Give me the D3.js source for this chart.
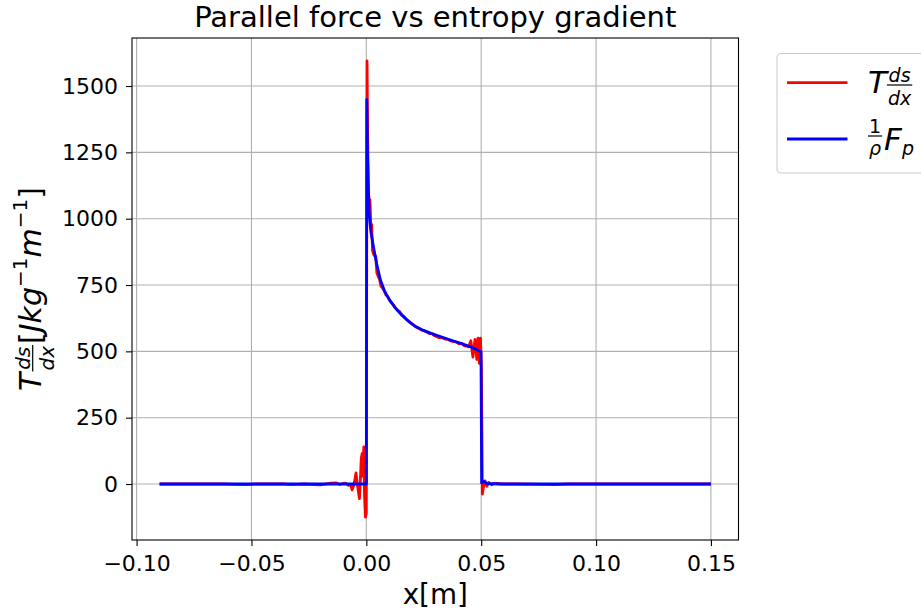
<!DOCTYPE html>
<html><head><meta charset="utf-8">
<script src="https://cdn.jsdelivr.net/npm/d3@7"></script>
<style>body{margin:0;background:#fff} svg{display:block} text{font-family:"DejaVu Sans",sans-serif;fill:#000}</style>
</head><body>
<svg id="c" width="921" height="614"></svg>
<script>
const xTicks = [-0.10, -0.05, 0.00, 0.05, 0.10, 0.15];
const yTicks = [0, 250, 500, 750, 1000, 1250, 1500];

const blueX = [-0.09, -0.05, -0.0004, 0.0, 0.0002, 0.0005, 0.0009, 0.0013, 0.002, 0.0032, 0.0045, 0.0061, 0.0079, 0.010, 0.0123, 0.015, 0.0181, 0.021, 0.0246, 0.0285, 0.0325, 0.037, 0.0412, 0.045, 0.0484, 0.0499, 0.0502, 0.0512, 0.0525, 0.06, 0.15];
const blueY = [0, 0, 0, 0, 1450, 1250, 1110, 1010, 950, 890, 830, 770, 728, 695, 667, 640, 615, 596, 580, 567, 555, 542, 530, 518, 505, 498, 4, 10, 2, 0, 0];

const redX = [-0.09, -0.062, -0.058, -0.052, -0.048, -0.036, -0.033, -0.03, -0.027, -0.023, -0.02, -0.018, -0.0155, -0.013, -0.0115, -0.0098, -0.0088, -0.0078, -0.0068, -0.0062, -0.0056, -0.0051, -0.0045, -0.004, -0.0035, -0.003, -0.0026, -0.0022, -0.0018, -0.0015, -0.0011, -0.0008, -0.0004, 0.0, 0.0003, 0.0006, 0.0009, 0.0012, 0.0016, 0.0019, 0.0023, 0.0027, 0.0031, 0.0036, 0.0041, 0.0046, 0.0052, 0.0058, 0.0064, 0.0071, 0.0078, 0.0086, 0.0094, 0.0102, 0.011, 0.0118, 0.0127, 0.0136, 0.0145, 0.0155, 0.0165, 0.0175, 0.0185, 0.0195, 0.0205, 0.0215, 0.0225, 0.0235, 0.0245, 0.0255, 0.0265, 0.0275, 0.0285, 0.0295, 0.0305, 0.0315, 0.0325, 0.0335, 0.0345, 0.0355, 0.0365, 0.0375, 0.0385, 0.0395, 0.0405, 0.0415, 0.0425, 0.0435, 0.0445, 0.0455, 0.0464, 0.0473, 0.0481, 0.0486, 0.0492, 0.0497, 0.0501, 0.0505, 0.051, 0.0516, 0.0525, 0.0533, 0.0546, 0.0559, 0.0585, 0.065, 0.075, 0.082, 0.088, 0.15];
const redY = [0, 0, -1, -2, 0, 0, -2, -1, 0, -2, -3, 0, 3, 4, -2, 3, 2, -5, -2, -22, -8, 10, 42, 5, -25, -55, 15, 98, 115, 30, 140, -40, -125, -110, 1595, 1300, 1100, 1075, 1070, 985, 978, 880, 868, 860, 858, 795, 782, 770, 745, 738, 728, 712, 705, 692, 683, 675, 664, 655, 650, 638, 630, 620, 614, 606, 600, 593, 588, 583, 578, 577, 572, 567, 568, 560, 556, 552, 553, 549, 546, 545, 540, 538, 537, 533, 528, 530, 522, 520, 517, 540, 478, 545, 470, 550, 455, 550, 440, -38, -10, 12, -8, 6, -3, 2, 0, 0, -1, -2, 0, 0];

const title = "Parallel force vs entropy gradient";
const xLabel = "x[m]";

const svg = d3.select("#c");
const L = 132, R = 738.5, T = 38, B = 540;
const x = d3.scaleLinear().domain([-0.102, 0.162]).range([L, R]);
const y = d3.scaleLinear().domain([-211, 1681]).range([B, T]);

// grid
const grid = svg.append("g");
xTicks.forEach(v => grid.append("line").attr("x1", x(v)).attr("x2", x(v)).attr("y1", T).attr("y2", B).attr("stroke", "#b0b0b0").attr("stroke-width", 1.1));
yTicks.forEach(v => grid.append("line").attr("x1", L).attr("x2", R).attr("y1", y(v)).attr("y2", y(v)).attr("stroke", "#b0b0b0").attr("stroke-width", 1.1));

svg.append("clipPath").attr("id", "clip").append("rect").attr("x", L).attr("y", T).attr("width", R - L).attr("height", B - T);

const line = d3.line().x(d => x(d[0])).y(d => y(d[1]));
const redData = redX.map((v, i) => [v, redY[i]]);
const blueData = blueX.map((v, i) => [v, blueY[i]]);
const plot = svg.append("g").attr("clip-path", "url(#clip)");
plot.append("path").attr("d", line(redData)).attr("fill", "none").attr("stroke", "#ff0000").attr("stroke-width", 2.8).attr("stroke-linejoin", "round");
plot.append("path").attr("d", line(blueData)).attr("fill", "none").attr("stroke", "#0000ff").attr("stroke-width", 2.8).attr("stroke-linejoin", "round");

// axes
const fmtX = d => d3.format(".2f")(d).replace("-", "\u2212");
const xAxis = d3.axisBottom(x).tickValues(xTicks).tickFormat(fmtX).tickSize(6).tickPadding(7.5);
const yAxis = d3.axisLeft(y).tickValues(yTicks).tickFormat(d3.format("d")).tickSize(6).tickPadding(8);
const gx = svg.append("g").attr("transform", `translate(0,${B})`).call(xAxis);
const gy = svg.append("g").attr("transform", `translate(${L},0)`).call(yAxis);
[gx, gy].forEach(g => {
  g.select(".domain").remove();
  g.selectAll(".tick line").attr("stroke", "#000").attr("stroke-width", 1.1);
  g.selectAll(".tick text").attr("font-size", 22).attr("font-family", "DejaVu Sans").attr("fill", "#000");
});
gx.selectAll(".tick text").attr("dy", "0.78em");
svg.append("rect").attr("x", L).attr("y", T).attr("width", R - L).attr("height", B - T).attr("fill", "none").attr("stroke", "#000").attr("stroke-width", 1.1);

// title & x label
svg.append("text").attr("x", (L + R) / 2).attr("y", 26.5).attr("text-anchor", "middle").attr("font-size", 29).text(title);
svg.append("text").attr("x", (L + R) / 2).attr("y", 604).attr("text-anchor", "middle").attr("font-size", 27.8).text(xLabel);

// math layout helper
function layoutMath(g, items) {
  let cx = 0;
  items.forEach(it => {
    if (it.frac) {
      const n = g.append("text").attr("font-size", it.size).attr("font-style", it.ni ? "italic" : "normal").text(it.frac[0]);
      const d = g.append("text").attr("font-size", it.size).attr("font-style", it.di ? "italic" : "normal").text(it.frac[1]);
      const wn = n.node().getComputedTextLength(), wd = d.node().getComputedTextLength();
      const w = Math.max(wn, wd) + 2;
      n.attr("x", cx + (w - wn) / 2).attr("y", it.numY);
      d.attr("x", cx + (w - wd) / 2).attr("y", it.denY);
      g.append("line").attr("x1", cx).attr("x2", cx + w).attr("y1", it.barY).attr("y2", it.barY).attr("stroke", "#000").attr("stroke-width", it.barW || 1.2);
      cx += w + (it.after || 0);
    } else {
      const t = g.append("text").attr("x", cx + (it.before || 0)).attr("y", it.dy || 0).attr("font-size", it.size).attr("font-style", it.italic ? "italic" : "normal").text(it.t);
      cx += (it.before || 0) + t.node().getComputedTextLength() + (it.after || 0);
    }
  });
  return cx;
}

// y label
const f = 30, s = 20;
const yl = svg.append("g");
const ylw = layoutMath(yl, [
  { t: "T", italic: true, size: f, after: 1 },
  { frac: ["ds", "dx"], ni: true, di: true, size: s, numY: -11.5, denY: 12.5, barY: -8.3, after: 1 },
  { t: "[", size: f },
  { t: "J", italic: true, size: f },
  { t: "k", italic: true, size: f },
  { t: "g", italic: true, size: f },
  { t: "\u22121", size: s, dy: -14 },
  { t: "m", italic: true, size: f },
  { t: "\u22121", size: s, dy: -14 },
  { t: "]", size: f }
]);
yl.attr("transform", `translate(41,${(T + B) / 2 + ylw / 2}) rotate(-90)`);

// legend
const lg = svg.append("g");
lg.append("rect").attr("x", 777).attr("y", 53.5).attr("width", 170).attr("height", 119.5).attr("rx", 4).attr("fill", "#fff").attr("fill-opacity", 0.8).attr("stroke", "#cccccc").attr("stroke-width", 1.1);
lg.append("line").attr("x1", 787).attr("x2", 847.5).attr("y1", 82.7).attr("y2", 82.7).attr("stroke", "#ff0000").attr("stroke-width", 2.8);
lg.append("line").attr("x1", 787).attr("x2", 847.5).attr("y1", 139).attr("y2", 139).attr("stroke", "#0000ff").attr("stroke-width", 2.8);
const lf = 31, ls = 19;
const l1 = lg.append("g").attr("transform", "translate(868,93.3)");
layoutMath(l1, [
  { t: "T", italic: true, size: lf, after: 0 },
  { frac: ["ds", "dx"], ni: true, di: true, size: ls, numY: -11.6, denY: 12, barY: -8.3 }
]);
const l2 = lg.append("g").attr("transform", "translate(868,150)");
layoutMath(l2, [
  { frac: ["1", "\u03c1"], ni: false, di: true, size: ls, numY: -17.5, denY: 5.2, barY: -14, after: 2 },
  { t: "F", italic: true, size: lf },
  { t: "p", italic: true, size: ls, dy: 5 }
]);
</script>
</body></html>
